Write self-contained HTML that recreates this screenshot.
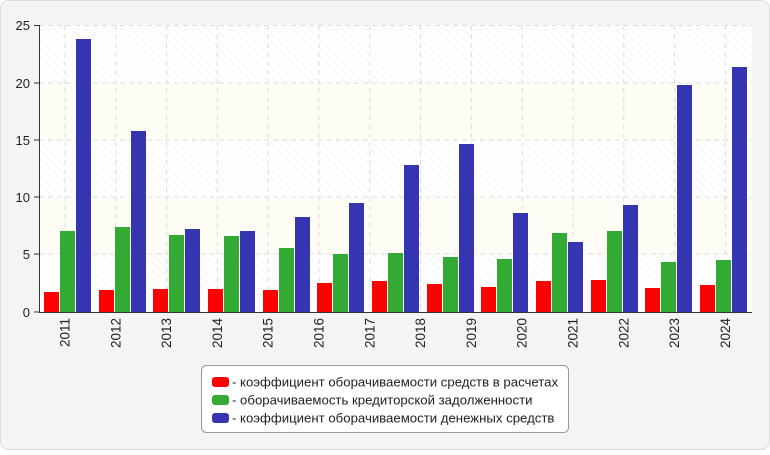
<!DOCTYPE html>
<html><head><meta charset="utf-8"><style>
body{margin:0;background:#fff}
</style></head><body>
<svg width="770" height="450" xmlns="http://www.w3.org/2000/svg" font-family="Liberation Sans, sans-serif">
<defs>
<pattern id="h" width="6" height="6" patternUnits="userSpaceOnUse" patternTransform="rotate(-45)">
<rect width="6" height="6" fill="#fff"/><line x1="0" y1="0" x2="0" y2="6" stroke="#eee" stroke-width="1"/>
</pattern>
</defs>
<rect x="0.5" y="0.5" width="769" height="449" rx="8" fill="#f4f4f4" stroke="#ddd"/>
<rect x="39" y="25" width="713" height="287" fill="url(#h)"/>
<rect x="39" y="83" width="713" height="57" fill="#fdfdf6"/>
<rect x="39" y="197" width="713" height="57" fill="#fdfdf6"/>
<g stroke="#ddd" stroke-dasharray="5,4">
<line x1="39" y1="25.5" x2="752" y2="25.5"/><line x1="39" y1="83" x2="752" y2="83"/><line x1="39" y1="140" x2="752" y2="140"/><line x1="39" y1="197" x2="752" y2="197"/><line x1="39" y1="254" x2="752" y2="254"/>
<line x1="65" y1="25" x2="65" y2="312"/><line x1="115.8" y1="25" x2="115.8" y2="312"/><line x1="166.6" y1="25" x2="166.6" y2="312"/><line x1="217.4" y1="25" x2="217.4" y2="312"/><line x1="268.2" y1="25" x2="268.2" y2="312"/><line x1="319" y1="25" x2="319" y2="312"/><line x1="369.8" y1="25" x2="369.8" y2="312"/><line x1="420.6" y1="25" x2="420.6" y2="312"/><line x1="471.4" y1="25" x2="471.4" y2="312"/><line x1="522.2" y1="25" x2="522.2" y2="312"/><line x1="573" y1="25" x2="573" y2="312"/><line x1="623.8" y1="25" x2="623.8" y2="312"/><line x1="674.6" y1="25" x2="674.6" y2="312"/><line x1="725.4" y1="25" x2="725.4" y2="312"/>
</g>
<g id="bars">
<rect x="44" y="292" width="15" height="20" fill="#f00"/><rect x="60" y="231" width="15" height="81" fill="#33aa33"/><rect x="76" y="39" width="15" height="273" fill="#3535b2"/>
<rect x="99" y="290" width="15" height="22" fill="#f00"/><rect x="115" y="227" width="15" height="85" fill="#33aa33"/><rect x="131" y="131" width="15" height="181" fill="#3535b2"/>
<rect x="153" y="289" width="15" height="23" fill="#f00"/><rect x="169" y="235" width="15" height="77" fill="#33aa33"/><rect x="185" y="229" width="15" height="83" fill="#3535b2"/>
<rect x="208" y="289" width="15" height="23" fill="#f00"/><rect x="224" y="236" width="15" height="76" fill="#33aa33"/><rect x="240" y="231" width="15" height="81" fill="#3535b2"/>
<rect x="263" y="290" width="15" height="22" fill="#f00"/><rect x="279" y="248" width="15" height="64" fill="#33aa33"/><rect x="295" y="217" width="15" height="95" fill="#3535b2"/>
<rect x="317" y="283" width="15" height="29" fill="#f00"/><rect x="333" y="254" width="15" height="58" fill="#33aa33"/><rect x="349" y="203" width="15" height="109" fill="#3535b2"/>
<rect x="372" y="281" width="15" height="31" fill="#f00"/><rect x="388" y="253" width="15" height="59" fill="#33aa33"/><rect x="404" y="165" width="15" height="147" fill="#3535b2"/>
<rect x="427" y="284" width="15" height="28" fill="#f00"/><rect x="443" y="257" width="15" height="55" fill="#33aa33"/><rect x="459" y="144" width="15" height="168" fill="#3535b2"/>
<rect x="481" y="287" width="15" height="25" fill="#f00"/><rect x="497" y="259" width="15" height="53" fill="#33aa33"/><rect x="513" y="213" width="15" height="99" fill="#3535b2"/>
<rect x="536" y="281" width="15" height="31" fill="#f00"/><rect x="552" y="233" width="15" height="79" fill="#33aa33"/><rect x="568" y="242" width="15" height="70" fill="#3535b2"/>
<rect x="591" y="280" width="15" height="32" fill="#f00"/><rect x="607" y="231" width="15" height="81" fill="#33aa33"/><rect x="623" y="205" width="15" height="107" fill="#3535b2"/>
<rect x="645" y="288" width="15" height="24" fill="#f00"/><rect x="661" y="262" width="15" height="50" fill="#33aa33"/><rect x="677" y="85" width="15" height="227" fill="#3535b2"/>
<rect x="700" y="285" width="15" height="27" fill="#f00"/><rect x="716" y="260" width="15" height="52" fill="#33aa33"/><rect x="732" y="67" width="15" height="245" fill="#3535b2"/>
</g>
<g stroke="#333" fill="none">
<line x1="39.5" y1="25" x2="39.5" y2="312"/><line x1="39" y1="312.5" x2="752" y2="312.5"/>
<line x1="34" y1="25.5" x2="39" y2="25.5"/><line x1="34" y1="83" x2="39" y2="83"/><line x1="34" y1="140" x2="39" y2="140"/><line x1="34" y1="197" x2="39" y2="197"/><line x1="34" y1="254" x2="39" y2="254"/><line x1="34" y1="312" x2="39" y2="312"/>
</g>
<g font-size="13" fill="#222" text-anchor="end">
<text x="30" y="30">25</text><text x="30" y="88">20</text><text x="30" y="145">15</text><text x="30" y="202">10</text><text x="30" y="259">5</text><text x="30" y="317">0</text>
</g>
<g font-size="13.5" fill="#222" text-anchor="end">
<text transform="translate(69.5,318) rotate(-90)">2011</text>
<text transform="translate(120.3,318) rotate(-90)">2012</text>
<text transform="translate(171.1,318) rotate(-90)">2013</text>
<text transform="translate(221.9,318) rotate(-90)">2014</text>
<text transform="translate(272.7,318) rotate(-90)">2015</text>
<text transform="translate(323.5,318) rotate(-90)">2016</text>
<text transform="translate(374.3,318) rotate(-90)">2017</text>
<text transform="translate(425.1,318) rotate(-90)">2018</text>
<text transform="translate(475.9,318) rotate(-90)">2019</text>
<text transform="translate(526.7,318) rotate(-90)">2020</text>
<text transform="translate(577.5,318) rotate(-90)">2021</text>
<text transform="translate(628.3,318) rotate(-90)">2022</text>
<text transform="translate(679.1,318) rotate(-90)">2023</text>
<text transform="translate(729.9,318) rotate(-90)">2024</text>
</g>
<rect x="201.5" y="365.5" width="367" height="67" rx="5" fill="#fff" stroke="#999"/>
<rect x="212" y="377" width="17" height="10" rx="3" fill="#f00"/>
<rect x="212" y="395" width="17" height="10" rx="3" fill="#33aa33"/>
<rect x="212" y="413" width="17" height="10" rx="3" fill="#3535b2"/>
<g font-size="13.2" fill="#222">
<text x="232" y="386.5">- коэффициент оборачиваемости средств в расчетах</text>
<text x="232" y="404.5">- оборачиваемость кредиторской задолженности</text>
<text x="232" y="422.5">- коэффициент оборачиваемости денежных средств</text>
</g>
</svg>
</body></html>
